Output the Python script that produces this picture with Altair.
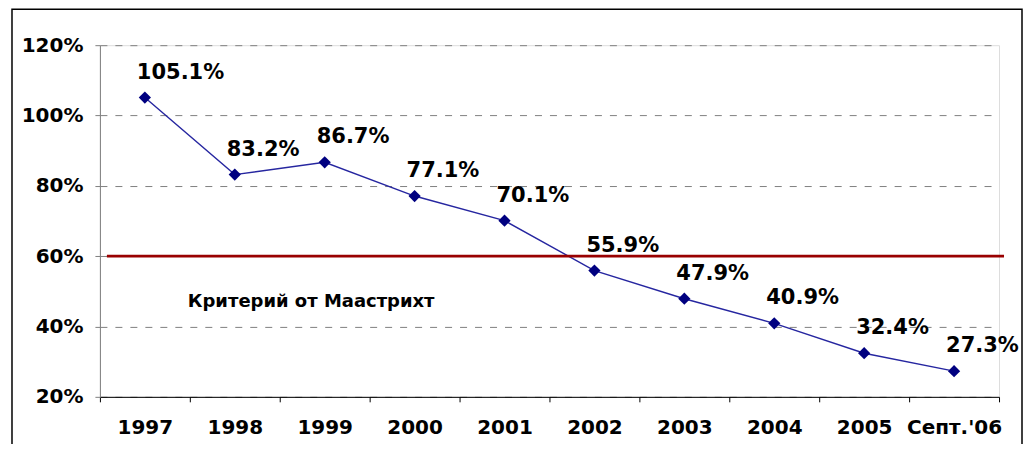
import altair as alt
import pandas as pd

categories = ["1997", "1998", "1999", "2000", "2001", "2002", "2003", "2004", "2005", "Септ.'06"]
values = [105.1, 83.2, 86.7, 77.1, 70.1, 55.9, 47.9, 40.9, 32.4, 27.3]
y_ticks = [20, 40, 60, 80, 100, 120]
criterion = 60
criterion_label = "Критерий от Маастрихт"
criterion_label_y = 47

df = pd.DataFrame({"cat": categories, "value": values})

FONT = "DejaVu Sans"

x_enc = alt.X(
    "cat:N",
    sort=categories,
    scale=alt.Scale(type="band", paddingInner=0, paddingOuter=0),
    axis=alt.Axis(
        title=None, labelAngle=0, tickBand="extent", grid=False,
        domainColor="#000000", tickColor="#000000", tickSize=5,
        labelFont=FONT, labelFontWeight="bold", labelFontSize=20,
        labelColor="#000000", labelPadding=16,
    ),
)
y_enc = alt.Y(
    "value:Q",
    scale=alt.Scale(domain=[20, 120], nice=False, zero=False),
    axis=alt.Axis(
        title=None, values=y_ticks, labelExpr="datum.value + '%'",
        grid=True, gridDash=[7, 8], gridColor="#808080", gridWidth=1,
        domainColor="#808080", tickColor="#808080", tickSize=5,
        labelFont=FONT, labelFontWeight="bold", labelFontSize=20,
        labelColor="#000000", labelPadding=12,
    ),
)

base = alt.Chart(df).encode(x=x_enc, y=y_enc)

line = base.mark_line(color="#2626a0", strokeWidth=1.4)
points = base.mark_point(shape="diamond", filled=True, color="#000080", size=150, opacity=1)
labels = base.transform_calculate(
    label="format(datum.value, '.1f') + '%'"
).mark_text(
    align="left", baseline="middle", dx=-8, dy=-25,
    font=FONT, fontWeight="bold", fontSize=21, color="#000000",
).encode(text="label:N")

crit_df = pd.DataFrame({"y": [criterion]})
crit_line = alt.Chart(crit_df).mark_rule(color="#990000", strokeWidth=2.7).encode(
    y=alt.Y("y:Q"), x=alt.value(7), x2=alt.value(905)
)
crit_text = alt.Chart(pd.DataFrame({"y": [criterion_label_y], "t": [criterion_label]})).mark_text(
    align="left", baseline="middle", font=FONT, fontWeight="bold", fontSize=18, color="#000000"
).encode(y=alt.Y("y:Q"), x=alt.value(88), text="t:N")

frame = alt.Chart(pd.DataFrame({"a": [0]})).mark_rect(
    fill="transparent", stroke="#000000", strokeWidth=1.5
).encode(x=alt.value(-88), x2=alt.value(923), y=alt.value(-36), y2=alt.value(600))

chart = alt.layer(frame, line, crit_line, points, labels, crit_text).properties(
    width=900, height=352,
    autosize=alt.AutoSizeParams(type="none"),
    padding={"left": 92, "top": 37, "right": 24, "bottom": 47},
).configure_view(stroke=None).configure(background="#ffffff")

chart.save("out.html", embed_options={"renderer": "svg", "actions": False})
